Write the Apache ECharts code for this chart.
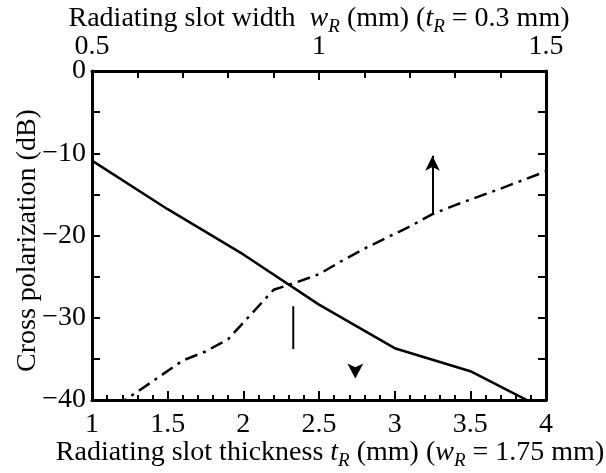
<!DOCTYPE html>
<html>
<head>
<meta charset="utf-8">
<script src="https://cdn.jsdelivr.net/npm/echarts@6/dist/echarts.min.js"></script>
<style>
  html, body { margin: 0; padding: 0; background: #fff; }
  #app { width: 606px; height: 473px; }
</style>
</head>
<body>
<div id="app"></div>
<script>
// solid curve, bottom axis: slot thickness t_R (mm) vs cross polarization (dB)
var thicknessT = [1, 1.5, 2, 2.5, 3, 3.5, 4];
var crossPolT = [-10.9, -16.8, -22.3, -28.4, -33.7, -36.5, -41.2];

// dash-dot curve, top axis: slot width w_R (mm) vs cross polarization (dB)
var widthW = [0.5, 0.6, 0.7, 0.75, 0.8, 0.85, 0.9, 0.95, 1.0, 1.05, 1.1, 1.2, 1.25, 1.3, 1.4, 1.5];
var crossPolW = [-42.6, -39.0, -35.2, -34.1, -32.6, -29.6, -26.6, -25.7, -24.7, -23.1, -21.6, -18.9, -17.4, -16.3, -14.3, -12.2];

// annotation marks (data coordinates)
var upArrow = [[1.25, -17.4], [1.25, -10.3]];
var downStroke = [[2.33, -28.6], [2.33, -33.8]];
var downHead = [2.74, -37.4];

var FONT = 'Liberation Serif';

function minus(v) {
    return v < 0 ? '\u2212' + Math.abs(v) : String(v);
}

var rich = {
    n: { fontFamily: FONT, fontSize: 28, lineHeight: 34, color: '#000' },
    i: { fontFamily: FONT, fontSize: 28, fontStyle: 'italic', lineHeight: 34, color: '#000' },
    s: { fontFamily: FONT, fontSize: 19, fontStyle: 'italic', lineHeight: 22, verticalAlign: 'bottom', color: '#000' }
};

var chart = echarts.init(document.getElementById('app'), null, { renderer: 'canvas' });

var axisLine = { show: true, onZero: false, lineStyle: { color: '#000', width: 3 } };
var labelStyle = { fontFamily: FONT, fontSize: 28, color: '#000' };

var option = {
    animation: false,
    backgroundColor: '#fff',
    grid: { left: 92, right: 60, top: 71, bottom: 73, containLabel: false, outerBoundsMode: 'none' },
    xAxis: [
        {
            type: 'value', position: 'bottom', min: 1, max: 4, interval: 0.5,
            axisLine: axisLine,
            axisTick: { show: true, inside: true, length: 9, lineStyle: { color: '#000', width: 2 } },
            minorTick: { show: true, splitNumber: 5, length: 5, lineStyle: { color: '#000', width: 2 } },
            splitLine: { show: false },
            axisLabel: Object.assign({ margin: 11, formatter: minus }, labelStyle),
            name: '{n|Radiating slot thickness }{i|t}{s|R}{n| (mm) (}{i|w}{s|R}{n| = 1.75 mm)}',
            nameLocation: 'middle', nameGap: 36, nameMoveOverlap: false,
            nameTextStyle: { rich: rich, padding: [0, 0, 0, 22] }
        },
        {
            type: 'value', position: 'top', min: 0.5, max: 1.5, interval: 0.5,
            axisLine: axisLine,
            axisTick: { show: true, inside: true, length: 9, lineStyle: { color: '#000', width: 2 } },
            minorTick: { show: true, splitNumber: 5, length: 7, lineStyle: { color: '#000', width: 2 } },
            splitLine: { show: false },
            axisLabel: Object.assign({ margin: 10, formatter: minus }, labelStyle),
            name: '{n|Radiating slot width  }{i|w}{s|R}{n| (mm) (}{i|t}{s|R}{n| = 0.3 mm)}',
            nameLocation: 'middle', nameGap: 35, nameMoveOverlap: false,
            nameTextStyle: { rich: rich }
        }
    ],
    yAxis: [
        {
            type: 'value', position: 'left', min: -40, max: 0, interval: 10,
            axisLine: axisLine,
            axisTick: { show: true, inside: true, length: 8, lineStyle: { color: '#000', width: 2 } },
            minorTick: { show: true, splitNumber: 2, length: 8, lineStyle: { color: '#000', width: 2 } },
            splitLine: { show: false },
            axisLabel: Object.assign({ margin: 6, formatter: minus }, labelStyle),
            name: 'Cross polarization (dB)',
            nameLocation: 'middle', nameGap: 50, nameMoveOverlap: false,
            nameTextStyle: { fontFamily: FONT, fontSize: 28, color: '#000', padding: [0, 10, 0, 0] }
        },
        {
            type: 'value', position: 'right', min: -40, max: 0, interval: 10,
            axisLine: axisLine,
            axisTick: { show: true, inside: true, length: 8, lineStyle: { color: '#000', width: 2 } },
            minorTick: { show: true, splitNumber: 2, length: 8, lineStyle: { color: '#000', width: 2 } },
            splitLine: { show: false },
            axisLabel: { show: false }
        }
    ],
    series: [
        {
            type: 'line', xAxisIndex: 0, yAxisIndex: 0, clip: true,
            data: thicknessT.map(function (t, k) { return [t, crossPolT[k]]; }),
            showSymbol: false, symbol: 'none',
            lineStyle: { color: '#000', width: 2.5 }
        },
        {
            type: 'line', xAxisIndex: 1, yAxisIndex: 0, clip: true,
            data: widthW.map(function (w, k) { return [w, crossPolW[k]]; }),
            showSymbol: false, symbol: 'none',
            lineStyle: { color: '#000', width: 2.5, type: [13, 6, 3, 6] },
            markLine: {
                silent: true, animation: false,
                symbol: ['none', 'arrow'], symbolSize: [11, 15],
                label: { show: false },
                lineStyle: { color: '#000', width: 2, type: 'solid' },
                data: [[{ coord: upArrow[0] }, { coord: upArrow[1] }]]
            }
        },
        {
            type: 'line', xAxisIndex: 0, yAxisIndex: 0,
            data: downStroke, showSymbol: false, symbol: 'none',
            lineStyle: { color: '#000', width: 2 }
        },
        {
            type: 'scatter', xAxisIndex: 0, yAxisIndex: 0,
            data: [downHead], symbol: 'arrow', symbolSize: [12, 15], symbolRotate: 180,
            itemStyle: { color: '#000', opacity: 1 }
        }
    ]
};

chart.setOption(option);
</script>
</body>
</html>
